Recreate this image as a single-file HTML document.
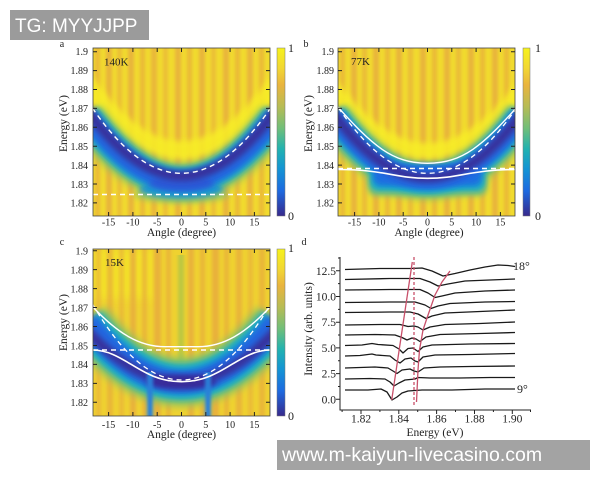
<!DOCTYPE html>
<html><head><meta charset="utf-8"><style>
html,body{margin:0;padding:0;background:#fff;}
svg{display:block;}
</style></head><body>
<svg width="600" height="480" xmlns="http://www.w3.org/2000/svg" font-family="'Liberation Serif', serif">
<defs>
<linearGradient id="par" x1="0" y1="1" x2="0" y2="0">
<stop offset="0" stop-color="#37298c"/>
<stop offset="0.15" stop-color="#1d6ae0"/>
<stop offset="0.28" stop-color="#1494d4"/>
<stop offset="0.4" stop-color="#22b2b0"/>
<stop offset="0.52" stop-color="#6fbe7a"/>
<stop offset="0.65" stop-color="#b6bc55"/>
<stop offset="0.78" stop-color="#e9b43e"/>
<stop offset="0.88" stop-color="#f2d733"/>
<stop offset="1" stop-color="#f6f21c"/>
</linearGradient>
<filter id="fs" filterUnits="userSpaceOnUse" x="0" y="0" width="600" height="480"><feGaussianBlur stdDeviation="1.6 0"/></filter>
<filter id="fb" filterUnits="userSpaceOnUse" x="0" y="0" width="600" height="480"><feGaussianBlur stdDeviation="3"/></filter>
<filter id="fb2" filterUnits="userSpaceOnUse" x="0" y="0" width="600" height="480"><feGaussianBlur stdDeviation="4"/></filter>
<clipPath id="ca"><rect x="93" y="48" width="177" height="168"/></clipPath>
<clipPath id="cb"><rect x="338" y="48" width="177" height="168"/></clipPath>
<clipPath id="cc"><rect x="93" y="249" width="177" height="167"/></clipPath>
</defs>

<!-- ============ PANEL A ============ -->
<g clip-path="url(#ca)">
<rect x="93" y="48" width="177" height="168" fill="#f1db2e"/>
<g filter="url(#fs)" fill="#e7ab3d">
<rect x="95" y="48" width="5" height="168" opacity=".7"/>
<rect x="106" y="48" width="6" height="168" opacity=".8"/>
<rect x="117" y="48" width="5" height="168" opacity=".6"/>
<rect x="128" y="48" width="6" height="168" opacity=".8"/>
<rect x="140" y="48" width="5" height="168" opacity=".7"/>
<rect x="151" y="48" width="6" height="168" opacity=".75"/>
<rect x="163" y="48" width="5" height="168" opacity=".6"/>
<rect x="175" y="48" width="6" height="168" opacity=".8"/>
<rect x="187" y="48" width="5" height="168" opacity=".7"/>
<rect x="199" y="48" width="6" height="168" opacity=".8"/>
<rect x="211" y="48" width="5" height="168" opacity=".6"/>
<rect x="223" y="48" width="6" height="168" opacity=".8"/>
<rect x="235" y="48" width="5" height="168" opacity=".7"/>
<rect x="247" y="48" width="6" height="168" opacity=".8"/>
<rect x="259" y="48" width="5" height="168" opacity=".7"/>
</g>
<path d="M86.5,83.2 Q181.5,216.8 276.5,83.2" stroke="#f8ee28" stroke-width="18" fill="none" opacity=".85" filter="url(#fb)"/>
<path d="M86.5,117.3 Q181.5,246.7 276.5,117.3" stroke="#86c266" stroke-width="36" fill="none" filter="url(#fb2)"/>
<ellipse cx="181.5" cy="195" rx="48" ry="8" fill="#8cc46a" opacity=".7" filter="url(#fb)"/>
<path d="M86.5,115.3 Q181.5,246.7 276.5,115.3" stroke="#19aec9" stroke-width="28" fill="none" filter="url(#fb)"/>
<ellipse cx="181.5" cy="189" rx="42" ry="9" fill="#1e96d0" filter="url(#fb)"/>
<path d="M86.5,115.3 Q181.5,246.7 276.5,115.3" stroke="#2168e0" stroke-width="20" fill="none" filter="url(#fb)"/>
<ellipse cx="181.5" cy="183" rx="32" ry="7" fill="#2a58d6" filter="url(#fb)"/>
<path d="M86.5,109.2 Q181.5,242.8 276.5,109.2" stroke="#39309c" stroke-width="10" fill="none" filter="url(#fb)"/>
<path d="M92.5,108.1 Q181.5,238.5 270.5,108.1" stroke="#fff" stroke-width="1.4" fill="none" stroke-dasharray="5,4"/>
<path d="M93,194.5 H270" stroke="#fff" stroke-width="1.4" fill="none" stroke-dasharray="5,4"/>
</g>
<rect x="93" y="48" width="177" height="168" fill="none" stroke="#444" stroke-width="0.8"/>
<path d="M108.6,48v4M132.9,48v4M157.2,48v4M181.5,48v4M205.8,48v4M230.1,48v4M254.4,48v4M108.6,216v-4M132.9,216v-4M157.2,216v-4M181.5,216v-4M205.8,216v-4M230.1,216v-4M254.4,216v-4M93,51.7h4M93,70.6h4M93,89.5h4M93,108.4h4M93,127.3h4M93,146.2h4M93,165.1h4M93,184h4M93,202.9h4M270,51.7h-4M270,70.6h-4M270,89.5h-4M270,108.4h-4M270,127.3h-4M270,146.2h-4M270,165.1h-4M270,184h-4M270,202.9h-4" stroke="#222" stroke-width="1" fill="none"/>
<rect x="277" y="48" width="8" height="168" fill="url(#par)" stroke="#777" stroke-width="0.5"/>
<g font-size="10" fill="#222" text-anchor="end">
<text x="88" y="55">1.9</text><text x="88" y="74">1.89</text><text x="88" y="93">1.88</text><text x="88" y="112">1.87</text><text x="88" y="131">1.86</text><text x="88" y="150">1.85</text><text x="88" y="169">1.84</text><text x="88" y="188">1.83</text><text x="88" y="206.5">1.82</text>
</g>
<g font-size="10" fill="#222" text-anchor="middle">
<text x="108.6" y="225.5">-15</text><text x="132.9" y="225.5">-10</text><text x="157.2" y="225.5">-5</text><text x="181.5" y="225.5">0</text><text x="205.8" y="225.5">5</text><text x="230.1" y="225.5">10</text><text x="254.4" y="225.5">15</text>
</g>
<text x="181.5" y="236" font-size="11.5" text-anchor="middle" fill="#222">Angle (degree)</text>
<text transform="translate(67,123.5) rotate(-90)" font-size="11.5" text-anchor="middle" fill="#222">Energy (eV)</text>
<text x="104" y="65.5" font-size="11" fill="#222">140K</text>
<text x="62" y="47" font-size="10" text-anchor="middle" fill="#222">a</text>
<text x="288" y="52" font-size="12" fill="#222">1</text>
<text x="288" y="220" font-size="12" fill="#222">0</text>

<!-- ============ PANEL B ============ -->
<g clip-path="url(#cb)">
<rect x="338" y="48" width="177" height="168" fill="#f1db2e"/>
<g filter="url(#fs)" fill="#e7ab3d">
<rect x="340" y="48" width="5" height="168" opacity=".7"/>
<rect x="351" y="48" width="6" height="168" opacity=".8"/>
<rect x="362" y="48" width="5" height="168" opacity=".65"/>
<rect x="373" y="48" width="6" height="168" opacity=".8"/>
<rect x="385" y="48" width="5" height="168" opacity=".7"/>
<rect x="396" y="48" width="6" height="168" opacity=".8"/>
<rect x="408" y="48" width="5" height="168" opacity=".65"/>
<rect x="420" y="48" width="6" height="168" opacity=".8"/>
<rect x="432" y="48" width="5" height="168" opacity=".7"/>
<rect x="444" y="48" width="6" height="168" opacity=".8"/>
<rect x="456" y="48" width="5" height="168" opacity=".65"/>
<rect x="468" y="48" width="6" height="168" opacity=".8"/>
<rect x="480" y="48" width="5" height="168" opacity=".7"/>
<rect x="492" y="48" width="6" height="168" opacity=".8"/>
<rect x="504" y="48" width="5" height="168" opacity=".7"/>
</g>
<path d="M332.5,87.9 Q427.5,214.1 522.5,87.9" stroke="#f8ee28" stroke-width="16" fill="none" opacity=".85" filter="url(#fb)"/>
<path d="M332.5,116.6 Q427.5,245.4 522.5,116.6" stroke="#86c266" stroke-width="36" fill="none" filter="url(#fb2)"/>
<rect x="368" y="174" width="119" height="22" rx="8" fill="#7fc070" filter="url(#fb)"/>
<path d="M332.5,114.6 Q427.5,245.4 522.5,114.6" stroke="#19aec9" stroke-width="28" fill="none" filter="url(#fb)"/>
<rect x="370" y="168" width="115" height="23" rx="8" fill="#19aec9" filter="url(#fb)"/>
<rect x="373" y="164" width="109" height="22" rx="8" fill="#1f6fe0" filter="url(#fb)"/>
<path d="M332.5,114.6 Q427.5,245.4 522.5,114.6" stroke="#2168e0" stroke-width="20" fill="none" filter="url(#fb)"/>
<path d="M332.5,112 Q427.5,244 522.5,112" stroke="#39309c" stroke-width="10" fill="none" filter="url(#fb)"/>
<path d="M338.5,107.8 Q427.5,238.8 516.5,107.8" stroke="#fff" stroke-width="1.3" fill="none" stroke-dasharray="5,4"/>
<path d="M338,168.5 H515" stroke="#fff" stroke-width="1.4" fill="none" stroke-dasharray="5,4"/>
<path d="M337,106 C372,145 392,163.3 427.5,163.3 C463,163.3 483,145 518,106" stroke="#fff" stroke-width="1.4" fill="none"/>
<path d="M337,169.5 C385,169.5 395,178.3 427.5,178.3 C460,178.3 470,169.5 518,169.5" stroke="#fff" stroke-width="1.6" fill="none"/>
</g>
<rect x="338" y="48" width="177" height="168" fill="none" stroke="#444" stroke-width="0.8"/>
<path d="M354.6,48v4M378.9,48v4M403.2,48v4M427.5,48v4M451.8,48v4M476.1,48v4M500.4,48v4M354.6,216v-4M378.9,216v-4M403.2,216v-4M427.5,216v-4M451.8,216v-4M476.1,216v-4M500.4,216v-4M338,51.7h4M338,70.6h4M338,89.5h4M338,108.4h4M338,127.3h4M338,146.2h4M338,165.1h4M338,184h4M338,202.9h4M515,51.7h-4M515,70.6h-4M515,89.5h-4M515,108.4h-4M515,127.3h-4M515,146.2h-4M515,165.1h-4M515,184h-4M515,202.9h-4" stroke="#222" stroke-width="1" fill="none"/>
<rect x="523" y="48" width="7" height="168" fill="url(#par)" stroke="#777" stroke-width="0.5"/>
<g font-size="10" fill="#222" text-anchor="end">
<text x="334" y="55">1.9</text><text x="334" y="74">1.89</text><text x="334" y="93">1.88</text><text x="334" y="112">1.87</text><text x="334" y="131">1.86</text><text x="334" y="150">1.85</text><text x="334" y="169">1.84</text><text x="334" y="188">1.83</text><text x="334" y="206.5">1.82</text>
</g>
<g font-size="10" fill="#222" text-anchor="middle">
<text x="354.6" y="225.5">-15</text><text x="378.9" y="225.5">-10</text><text x="403.2" y="225.5">-5</text><text x="427.5" y="225.5">0</text><text x="451.8" y="225.5">5</text><text x="476.1" y="225.5">10</text><text x="500.4" y="225.5">15</text>
</g>
<text x="429" y="236" font-size="11.5" text-anchor="middle" fill="#222">Angle (degree)</text>
<text transform="translate(312,123.5) rotate(-90)" font-size="11.5" text-anchor="middle" fill="#222">Energy (eV)</text>
<text x="351" y="65" font-size="11" fill="#222">77K</text>
<text x="306" y="47" font-size="10" text-anchor="middle" fill="#222">b</text>
<text x="535" y="52" font-size="12" fill="#222">1</text>
<text x="535" y="220" font-size="12" fill="#222">0</text>

<!-- ============ PANEL C ============ -->
<g clip-path="url(#cc)">
<rect x="93" y="249" width="177" height="167" fill="#efd230"/>
<rect x="93" y="249" width="60" height="50" fill="#f4e526" opacity=".8" filter="url(#fb2)"/>
<g filter="url(#fs)" fill="#e7ab3d">
<rect x="96" y="249" width="5" height="167" opacity=".6"/>
<rect x="107" y="249" width="6" height="167" opacity=".7"/>
<rect x="119" y="249" width="5" height="167" opacity=".6"/>
<rect x="130" y="249" width="6" height="167" opacity=".8"/>
<rect x="142" y="249" width="5" height="167" opacity=".7"/>
<rect x="154" y="249" width="7" height="167" opacity=".85"/>
<rect x="166" y="249" width="5" height="167" opacity=".7"/>
<rect x="188" y="249" width="6" height="167" opacity=".8"/>
<rect x="200" y="249" width="5" height="167" opacity=".7"/>
<rect x="212" y="249" width="7" height="167" opacity=".85"/>
<rect x="224" y="249" width="5" height="167" opacity=".7"/>
<rect x="236" y="249" width="6" height="167" opacity=".75"/>
<rect x="248" y="249" width="5" height="167" opacity=".6"/>
<rect x="259" y="249" width="6" height="167" opacity=".7"/>
</g>
<rect x="178" y="255" width="6" height="110" fill="#9cc050" opacity=".6" filter="url(#fs)"/>
<path d="M86.5,322.1 Q181.5,441.9 276.5,322.1" stroke="#86c266" stroke-width="48" fill="none" filter="url(#fb2)"/>
<path d="M86.5,322.1 Q181.5,441.9 276.5,322.1" stroke="#19aec9" stroke-width="36" fill="none" filter="url(#fb)"/>
<path d="M86.5,322.1 Q181.5,441.9 276.5,322.1" stroke="#2168e0" stroke-width="24" fill="none" filter="url(#fb)"/>
<path d="M86.5,330 Q181.5,434 276.5,330" stroke="#39309c" stroke-width="10" fill="none" filter="url(#fb)"/>
<ellipse cx="181.5" cy="382" rx="35" ry="7" fill="#37299a" filter="url(#fb)"/>
<rect x="147" y="372" width="6" height="46" fill="#2a80d8" filter="url(#fs)"/>
<rect x="205" y="372" width="6" height="46" fill="#2a80d8" filter="url(#fs)"/>
<path d="M92.5,304.1 Q181.5,455.9 270.5,304.1" stroke="#fff" stroke-width="1.3" fill="none" stroke-dasharray="5,4"/>
<path d="M93,350 H270" stroke="#fff" stroke-width="1.4" fill="none" stroke-dasharray="5,4"/>
<path d="M92,306 C118,334 140,346.7 165,346.7 L198,346.7 C223,346.7 245,334 271,306" stroke="#fff" stroke-width="1.4" fill="none"/>
<path d="M92,350 C125,350 140,381.7 181.5,381.7 C223,381.7 238,350 271,350" stroke="#fff" stroke-width="1.6" fill="none"/>
</g>
<rect x="93" y="249" width="177" height="167" fill="none" stroke="#444" stroke-width="0.8"/>
<path d="M108.6,249v4M132.9,249v4M157.2,249v4M181.5,249v4M205.8,249v4M230.1,249v4M254.4,249v4M108.6,416v-4M132.9,416v-4M157.2,416v-4M181.5,416v-4M205.8,416v-4M230.1,416v-4M254.4,416v-4M93,250.7h4M93,269.65h4M93,288.6h4M93,307.55h4M93,326.5h4M93,345.45h4M93,364.4h4M93,383.35h4M93,402.3h4M270,250.7h-4M270,269.65h-4M270,288.6h-4M270,307.55h-4M270,326.5h-4M270,345.45h-4M270,364.4h-4M270,383.35h-4M270,402.3h-4" stroke="#222" stroke-width="1" fill="none"/>
<rect x="277" y="249" width="8" height="167" fill="url(#par)" stroke="#777" stroke-width="0.5"/>
<g font-size="10" fill="#222" text-anchor="end">
<text x="88" y="254.5">1.9</text><text x="88" y="273.5">1.89</text><text x="88" y="292.5">1.88</text><text x="88" y="311.5">1.87</text><text x="88" y="330.5">1.86</text><text x="88" y="349.5">1.85</text><text x="88" y="368">1.84</text><text x="88" y="387">1.83</text><text x="88" y="406">1.82</text>
</g>
<g font-size="10" fill="#222" text-anchor="middle">
<text x="108.6" y="428">-15</text><text x="132.9" y="428">-10</text><text x="157.2" y="428">-5</text><text x="181.5" y="428">0</text><text x="205.8" y="428">5</text><text x="230.1" y="428">10</text><text x="254.4" y="428">15</text>
</g>
<text x="181.5" y="438" font-size="11.5" text-anchor="middle" fill="#222">Angle (degree)</text>
<text transform="translate(67,322.5) rotate(-90)" font-size="11.5" text-anchor="middle" fill="#222">Energy (eV)</text>
<text x="105" y="266" font-size="11" fill="#222">15K</text>
<text x="62" y="245" font-size="10" text-anchor="middle" fill="#222">c</text>
<text x="288" y="252" font-size="12" fill="#222">1</text>
<text x="288" y="420" font-size="12" fill="#222">0</text>

<!-- ============ PANEL D ============ -->
<text x="304" y="245" font-size="10" text-anchor="middle" fill="#222">d</text>
<path d="M340,257 V410 H531" stroke="#222" stroke-width="1" fill="none"/>
<path d="M340,399.3h-4M340,373.6h-4M340,347.9h-4M340,322.2h-4M340,296.5h-4M340,270.8h-4M340,386.45h-2M340,360.75h-2M340,335.05h-2M340,309.35h-2M340,283.65h-2M340,258h-2M361,410v4M398.8,410v4M436.6,410v4M474.5,410v4M512.3,410v4M342.1,410v2M379.9,410v2M417.7,410v2M455.5,410v2M493.4,410v2M530.5,410v2" stroke="#222" stroke-width="1" fill="none"/>
<g font-size="11.5" fill="#222" text-anchor="end">
<text x="336" y="403.3">0.0</text><text x="336" y="377.6">2.5</text><text x="336" y="351.9">5.0</text><text x="336" y="326.2">7.5</text><text x="336" y="300.5">10.0</text><text x="336" y="274.8">12.5</text>
</g>
<g font-size="11.5" fill="#222" text-anchor="middle">
<text x="361" y="422.5">1.82</text><text x="398.8" y="422.5">1.84</text><text x="436.6" y="422.5">1.86</text><text x="474.5" y="422.5">1.88</text><text x="512.3" y="422.5">1.90</text>
</g>
<text x="435" y="436" font-size="11.5" text-anchor="middle" fill="#222">Energy (eV)</text>
<text transform="translate(312,329) rotate(-90)" font-size="11.5" text-anchor="middle" fill="#222">Intensity (arb. units)</text>
<g stroke="#1a1a1a" stroke-width="1.3" fill="none" stroke-linejoin="round">
<polyline points="345,390 368,390 381,389 387,392 392,400 397,397 402,393 408,391 422,390 452,390 485,389 515,389"/>
<polyline points="345,379 370,378.5 385,379 390,382 394,386 399,383 405,380 415,379 418,377.5 430,378 460,378 490,377.5 515,377.5"/>
<polyline points="345,368 375,367 388,368 393,371 397,373.5 402,370 410,369 414,371 418,372 424,368 440,367 470,366.5 515,366"/>
<polyline points="345,356 360,355.5 372,354 376,355 390,356 395,360 400,363 405,359 411,358 415,361 418,362 423,357 435,355 470,354.5 515,353.5"/>
<polyline points="345,345.5 362,345 372,343.5 378,344.5 393,345.5 399,349 403,353 408,348.5 413,348 418,351.5 423,347 432,345 470,344 515,343.5"/>
<polyline points="345,335 375,334.5 395,335 402,337.5 407,340 412,338 416,339 420,341.5 426,337 440,334.5 480,333.5 515,332.5"/>
<polyline points="345,325 380,324.5 400,324.5 408,326.5 414,326 418,327 423,330 430,327 445,324.5 480,323.5 515,322"/>
<polyline points="345,312.5 390,312 410,312 418,314 426,318.5 432,316 445,313 480,311.5 515,310"/>
<polyline points="345,302.5 390,302 415,302 425,305 431,308.5 438,306 450,303.5 485,302 515,301.5"/>
<polyline points="345,290 390,289.5 420,289.5 428,293 435,297.5 442,296 455,293 485,291 515,290"/>
<polyline points="345,279.5 390,278.5 420,278.5 430,282 438,286 448,284 465,281 490,280 515,279"/>
<polyline points="345,269.5 380,268.5 410,268.5 422,268 432,271 443,276 455,273.5 470,270 485,267 498,265 508,265.5 515,266.5"/>
</g>
<g stroke="#c8506a" stroke-width="1.3" fill="none">
<path d="M391.7,400 L412.3,262"/>
<polyline points="416.5,402 418,370 419.5,350 423,330 427,318 435,295 442,282 450,271"/>
<path d="M414,257 V405" stroke-dasharray="3,2"/>
</g>
<text x="513" y="270" font-size="12" fill="#222">18°</text>
<text x="517" y="393" font-size="12" fill="#222">9°</text>

<!-- ============ WATERMARKS ============ -->
<rect x="10" y="10" width="139" height="30" fill="#9b9b9b"/>
<text x="15" y="32" font-family="'Liberation Sans', sans-serif" font-size="19" fill="#fff">TG: MYYJJPP</text>
<rect x="277" y="440" width="313" height="30" fill="#a3a3a3"/>
<text x="282" y="461" font-family="'Liberation Sans', sans-serif" font-size="19.5" fill="#fff">www.m-kaiyun-livecasino.com</text>
</svg>
</body></html>
